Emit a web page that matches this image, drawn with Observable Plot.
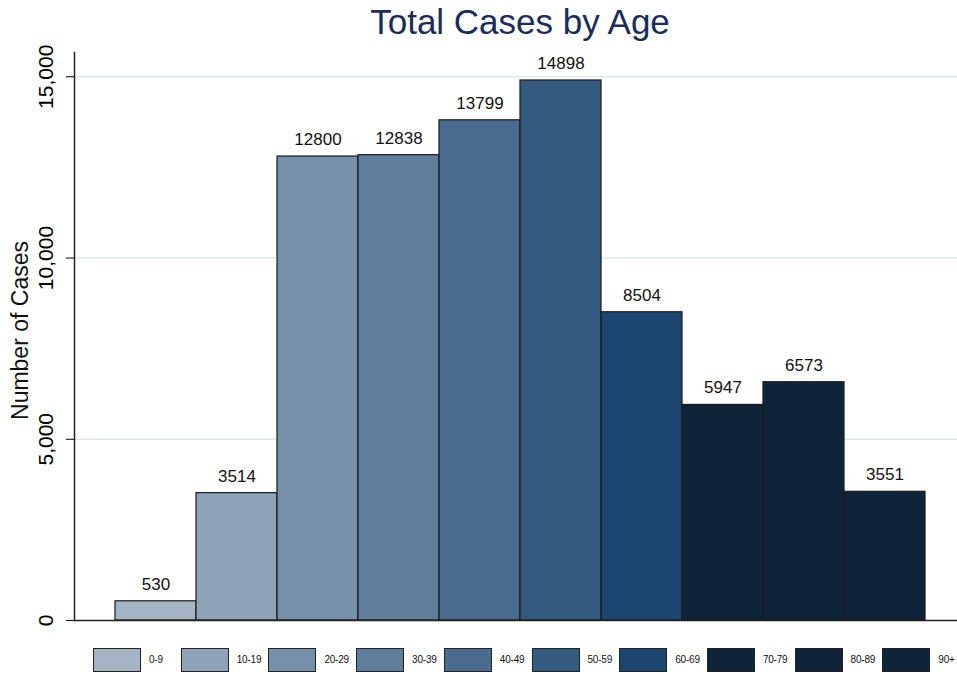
<!DOCTYPE html>
<html>
<head>
<meta charset="utf-8">
<script src="https://cdn.jsdelivr.net/npm/d3@7"></script>
<script src="https://cdn.jsdelivr.net/npm/@observablehq/plot@0.6"></script>
<style>
  html, body { margin: 0; padding: 0; background: #fff; }
  body { width: 957px; height: 674px; position: relative; overflow: hidden; font-family: "Liberation Sans", Arial, Helvetica, sans-serif; }
  #title { position: absolute; left: 83px; width: 874px; top: 2px; text-align: center; font-size: 35px; color: #1b2d57; white-space: nowrap; }
  #chart { position: absolute; left: 0; top: 0; }
  #legend { position: absolute; left: 0; top: 647px; width: 957px; height: 26px; }
  .item { position: absolute; top: 0; display: flex; align-items: center; height: 25px; }
  .sw { width: 48px; height: 24px; border: 1.3px solid #222; box-sizing: border-box; }
  .lab { font-size: 10px; color: #111; margin-left: 8px; letter-spacing: -0.2px; }
</style>
</head>
<body>
<div id="title">Total Cases by Age</div>
<div id="chart"></div>
<div id="legend"></div>
<script>
const ages = ["0-9","10-19","20-29","30-39","40-49","50-59","60-69","70-79","80-89","90+"];
const cases = [530, 3514, 12800, 12838, 13799, 14898, 8504, 5947, 6573, 3551];
const colors = ["#a5b4c4","#8ea3b8","#7690a9","#607e9b","#4a6b8d","#355a7f","#1c4570","#0f2339","#0f2339","#0f2339"];
const yTicks = [0, 5000, 10000, 15000];
const yLabel = "Number of Cases";

const data = ages.map((a, i) => ({age: a, cases: cases[i]}));

const plot = Plot.plot({
  width: 957,
  height: 640,
  marginTop: 52,
  marginBottom: 20,
  marginLeft: 74,
  marginRight: 0,
  style: {fontFamily: "'Liberation Sans', Arial, Helvetica, sans-serif", background: "transparent"},
  x: {type: "band", domain: ages, range: [115, 925], padding: 0, axis: null},
  y: {domain: [0, 15670]},
  color: {domain: ages, range: colors},
  marks: [
    Plot.gridY(yTicks.slice(1), {stroke: "#dbe9ec", strokeOpacity: 1, strokeWidth: 1.5}),
    Plot.barY(data, {x: "age", y: "cases", fill: "age", stroke: "#1a1a1a", strokeWidth: 1.2, inset: 0}),
    Plot.text(data, {x: "age", y: "cases", text: d => String(d.cases), dy: -17, fontSize: 17, fill: "#111"}),
    Plot.ruleY([0], {stroke: "#222", strokeWidth: 1.5}),
    Plot.frame({anchor: "left", stroke: "#222", strokeWidth: 1.5}),
    Plot.axisY(yTicks, {
      tickFormat: d3.format(","),
      tickRotate: -90,
      tickSize: 8,
      tickPadding: 14,
      fontSize: 21,
      label: null
    }),
    Plot.text([yLabel], {frameAnchor: "left", textAnchor: "middle", rotate: -90, dx: -54, dy: -6, fontSize: 23, fill: "#111", text: d => d})
  ]
});
plot.style.overflow = "visible";
document.getElementById("chart").appendChild(plot);

// legend
const leg = document.getElementById("legend");
ages.forEach((a, i) => {
  const it = document.createElement("div");
  it.className = "item";
  it.style.left = (93 + i * 87.7) + "px";
  const sw = document.createElement("div");
  sw.className = "sw";
  sw.style.background = colors[i];
  const lb = document.createElement("span");
  lb.className = "lab";
  lb.textContent = a;
  it.appendChild(sw); it.appendChild(lb);
  leg.appendChild(it);
});
</script>
</body>
</html>
